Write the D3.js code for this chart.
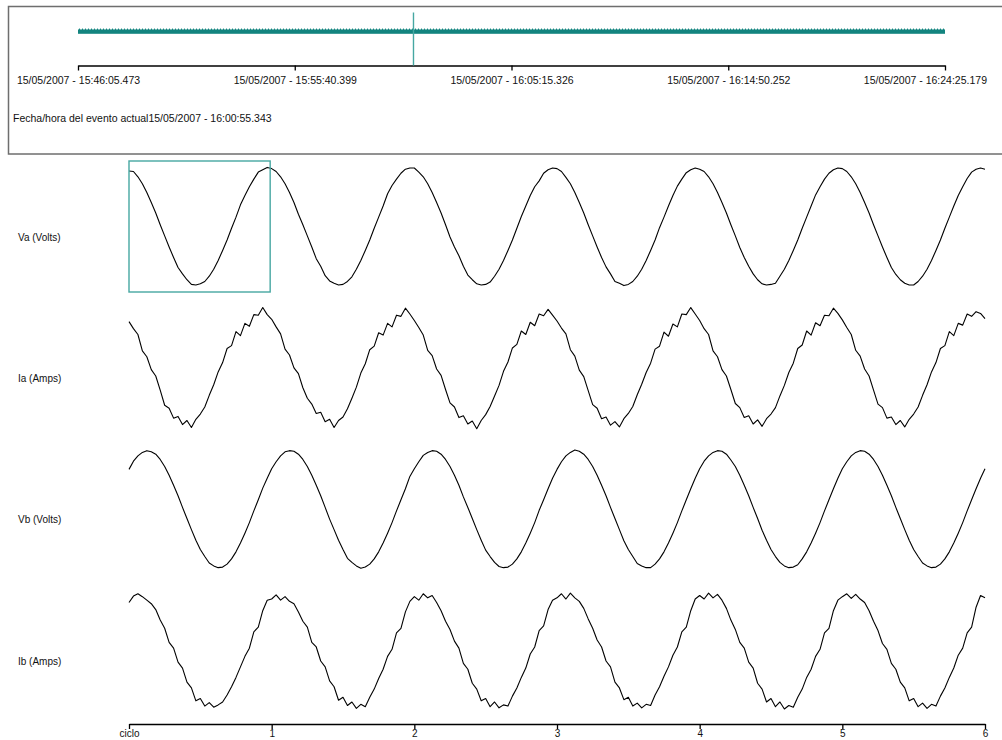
<!DOCTYPE html>
<html>
<head>
<meta charset="utf-8">
<script src="https://cdn.jsdelivr.net/npm/d3@7"></script>
<style>
  html, body { margin: 0; padding: 0; background: #fff; }
  svg { display: block; font-family: "Liberation Sans", Arial, sans-serif; }
</style>
</head>
<body>
<svg id="chart" width="1002" height="740"></svg>
<script>
// Recording timeline (top strip)
const timeTicks = [
  "15/05/2007 - 15:46:05.473",
  "15/05/2007 - 15:55:40.399",
  "15/05/2007 - 16:05:15.326",
  "15/05/2007 - 16:14:50.252",
  "15/05/2007 - 16:24:25.179"
];
const eventTime = "15/05/2007 - 16:00:55.343";
const eventLabel = "Fecha/hora del evento actual";

// Waveform channels and cycle axis
const channels = ["Va (Volts)", "Ia (Amps)", "Vb (Volts)", "Ib (Amps)"];
const cycleTicks = [0, 1, 2, 3, 4, 5, 6];
const cycleLabels = ["ciclo", "1", "2", "3", "4", "5", "6"];
const selectedCycle = [0, 1];
const samplesPerCycle = 32;

// Samples, % of channel peak, 32 per cycle
const va = [
  95,94,85,73,58,41,23,3,-16,-35,-53,-70,-81,-91,-99,-100,-98,-94,-85,-73,-58,-41,-23,-3,16,37,53,68,81,93,97,101,
  99,94,85,73,58,41,21,3,-16,-35,-55,-68,-84,-93,-97,-100,-99,-94,-86,-73,-58,-41,-23,-3,16,35,56,70,81,91,98,100,
  100,93,85,73,58,41,23,3,-18,-35,-50,-68,-83,-91,-98,-100,-99,-95,-85,-73,-58,-41,-23,-3,17,35,53,68,78,91,97,100,
  99,94,84,73,58,41,23,3,-16,-35,-53,-69,-81,-94,-97,-101,-99,-94,-85,-73,-58,-41,-23,-2,16,35,53,69,81,92,97,100,
  98,94,85,73,58,41,23,3,-16,-36,-53,-68,-81,-91,-98,-100,-99,-97,-85,-73,-58,-41,-23,-3,16,35,54,68,81,91,97,100,
  99,94,85,73,58,41,23,3,-16,-35,-53,-70,-82,-91,-97,-100,-100,-94,-85,-73,-58,-41,-23,-3,16,35,53,68,82,93,98,100,
  98
];
const ia = [
  79,67,57,29,19,-3,-14,-38,-64,-69,-86,-83,-97,-90,-102,-88,-79,-67,-47,-29,-7,9,33,38,62,55,76,71,91,90,103,91,
  83,70,58,32,22,0,-10,-34,-52,-62,-78,-76,-92,-88,-102,-90,-84,-70,-52,-33,-9,7,31,37,60,56,76,70,90,88,102,92,
  81,69,56,30,21,-2,-13,-37,-60,-67,-85,-82,-96,-91,-104,-90,-80,-66,-48,-30,-6,10,34,40,63,57,78,72,92,89,100,90,
  80,68,58,31,20,-4,-15,-39,-63,-69,-87,-84,-98,-92,-101,-87,-78,-66,-46,-28,-8,8,32,37,61,54,75,70,92,91,103,92,
  81,67,57,29,19,-3,-14,-37,-61,-68,-85,-82,-96,-89,-100,-87,-79,-68,-48,-30,-8,8,33,39,63,56,77,72,90,89,102,93,
  82,69,57,30,20,-2,-14,-38,-62,-68,-86,-84,-97,-90,-101,-88,-79,-67,-47,-29,-7,9,33,38,62,55,76,73,92,88,96,93,
  84
];
const vb = [
  68,82,91,97,100,98,94,85,73,58,41,23,3,-16,-35,-53,-69,-81,-92,-97,-100,-99,-94,-85,-73,-58,-41,-23,-3,16,36,53,
  69,81,91,98,100,99,94,85,73,58,41,23,3,-17,-35,-53,-69,-84,-91,-97,-101,-99,-94,-85,-73,-58,-41,-23,-3,16,35,56,
  69,81,92,97,100,99,94,85,73,58,41,21,3,-16,-35,-53,-70,-81,-91,-98,-100,-99,-94,-85,-73,-58,-41,-23,-2,16,35,53,
  68,81,91,97,101,99,94,85,73,58,41,23,3,-16,-35,-54,-69,-81,-93,-97,-100,-100,-94,-85,-73,-58,-41,-23,-3,16,35,53,
  69,82,91,97,100,99,94,84,73,58,41,23,3,-16,-36,-53,-69,-81,-91,-97,-100,-99,-95,-85,-73,-58,-41,-23,-3,16,35,53,
  69,81,91,97,100,99,94,85,73,58,41,23,3,-16,-35,-53,-69,-81,-92,-97,-100,-99,-94,-85,-73,-58,-41,-23,-3,16,35,53,
  69
];
const ib = [
  82,93,97,92,86,80,70,52,38,14,4,-20,-30,-54,-64,-86,-82,-95,-89,-97,-93,-88,-76,-62,-46,-28,-10,4,32,40,68,86,
  88,95,86,92,84,80,66,50,40,14,6,-18,-28,-52,-62,-85,-80,-94,-88,-99,-92,-96,-80,-66,-48,-32,-10,2,30,38,66,84,
  92,86,97,90,94,82,68,50,36,16,4,-22,-32,-56,-66,-86,-82,-96,-88,-98,-93,-95,-78,-64,-46,-30,-6,6,34,42,70,86,
  90,97,88,98,90,84,72,54,38,18,6,-18,-28,-54,-64,-84,-80,-95,-90,-98,-92,-94,-76,-62,-44,-28,-8,6,32,40,68,88,
  94,88,98,90,96,86,72,52,36,14,4,-20,-30,-56,-66,-88,-82,-96,-88,-100,-94,-97,-80,-66,-46,-32,-10,2,30,38,68,86,
  92,97,89,96,88,82,68,50,34,12,2,-22,-32,-54,-64,-86,-82,-96,-90,-99,-92,-95,-78,-64,-46,-30,-8,4,30,40,74,94,
  90
];
const seriesByChannel = [va, ia, vb, ib];

const svg = d3.select("#chart");
const teal = "#46a7a2";
const tealDark = "#13847f";

// ---------- timeline strip ----------
const parseTime = d3.timeParse("%d/%m/%Y - %H:%M:%S.%L");
const fmtTime = d3.timeFormat("%d/%m/%Y - %H:%M:%S.%L");
const tickDates = timeTicks.map(parseTime);
const tScale = d3.scaleTime()
  .domain([tickDates[0], tickDates[tickDates.length - 1]])
  .range([78, 945]);

svg.append("rect")
  .attr("x", 8.5).attr("y", 6.5)
  .attr("width", 1010).attr("height", 147.5)
  .attr("fill", "none").attr("stroke", "#6e6e6e").attr("stroke-width", 1.5);

// zig-zag fill for the recorded span
const defs = svg.append("defs");
const pat = defs.append("pattern")
  .attr("id", "zigzag").attr("patternUnits", "userSpaceOnUse")
  .attr("x", tScale.range()[0]).attr("y", 28)
  .attr("width", 3).attr("height", 6);
pat.append("path").attr("d", "M0,2 L1.5,0.2 L3,2 V6 H0 Z").attr("fill", tealDark);

svg.append("rect")
  .attr("x", tScale(tickDates[0]))
  .attr("y", 28)
  .attr("width", tScale(tickDates[tickDates.length - 1]) - tScale(tickDates[0]))
  .attr("height", 5.8)
  .attr("fill", "url(#zigzag)");

const tAxis = svg.append("g")
  .attr("transform", "translate(0,65.5)")
  .call(d3.axisBottom(tScale).tickValues(tickDates).tickFormat(fmtTime)
    .tickSize(5).tickSizeOuter(0).tickPadding(6));
tAxis.select(".domain").attr("stroke", "#000").attr("stroke-width", 1.5);
tAxis.selectAll(".tick line").attr("stroke", "#000").attr("stroke-width", 1.3);
tAxis.selectAll("text")
  .attr("font-family", "'Liberation Sans', Arial, sans-serif")
  .attr("font-size", 10.5).attr("fill", "#111")
  .each(function () {
    // keep labels inside the strip
    const w = this.getComputedTextLength();
    const tx = +d3.select(this.parentNode).attr("transform").match(/translate\(([-\d.]+)/)[1];
    const maxRight = 987;
    if (tx + w / 2 > maxRight) d3.select(this).attr("x", maxRight - w / 2 - tx);
  });

svg.append("line")
  .attr("x1", tScale(parseTime(eventTime))).attr("x2", tScale(parseTime(eventTime)))
  .attr("y1", 12.5).attr("y2", 65.5)
  .attr("stroke", teal).attr("stroke-width", 1.4);

svg.append("text")
  .attr("x", 13).attr("y", 122)
  .attr("font-size", 10.5).attr("fill", "#111")
  .text(eventLabel + eventTime);

// ---------- waveforms ----------
const x = d3.scaleLinear().domain([0, 6]).range([129, 985]);
const rowY = d3.scalePoint().domain(channels).range([226.5, 650.5]);
const amp = d3.scaleLinear().domain([-100, 100]).range([58.5, -58.5]);

channels.forEach((ch, i) => {
  const cy = rowY(ch);
  const line = d3.line()
    .x((d, k) => x(k / samplesPerCycle))
    .y(d => cy + amp(d));
  svg.append("path")
    .datum(seriesByChannel[i])
    .attr("d", line)
    .attr("fill", "none")
    .attr("stroke", "#000")
    .attr("stroke-width", 1.1)
    .attr("stroke-linejoin", "round");
  svg.append("text")
    .attr("x", 18).attr("y", cy + 14)
    .attr("font-size", 10).attr("fill", "#111")
    .text(ch);
});

// highlighted cycle window on the first channel
svg.append("rect")
  .attr("x", x(selectedCycle[0]))
  .attr("y", rowY(channels[0]) - 65.5)
  .attr("width", x(selectedCycle[1]) - x(selectedCycle[0]) - 1.5)
  .attr("height", 131)
  .attr("fill", "none")
  .attr("stroke", teal)
  .attr("stroke-width", 1.4);

// cycle axis
const cAxis = svg.append("g")
  .attr("transform", "translate(0,724)")
  .call(d3.axisBottom(x).tickValues(cycleTicks)
    .tickFormat((d, i) => cycleLabels[i])
    .tickSize(5).tickSizeOuter(0).tickPadding(1));
cAxis.select(".domain").attr("stroke", "#000").attr("stroke-width", 1.5);
cAxis.selectAll(".tick line").attr("stroke", "#000").attr("stroke-width", 1.3);
cAxis.selectAll("text")
  .attr("font-family", "'Liberation Sans', Arial, sans-serif")
  .attr("font-size", 10).attr("fill", "#111");
</script>
</body>
</html>
